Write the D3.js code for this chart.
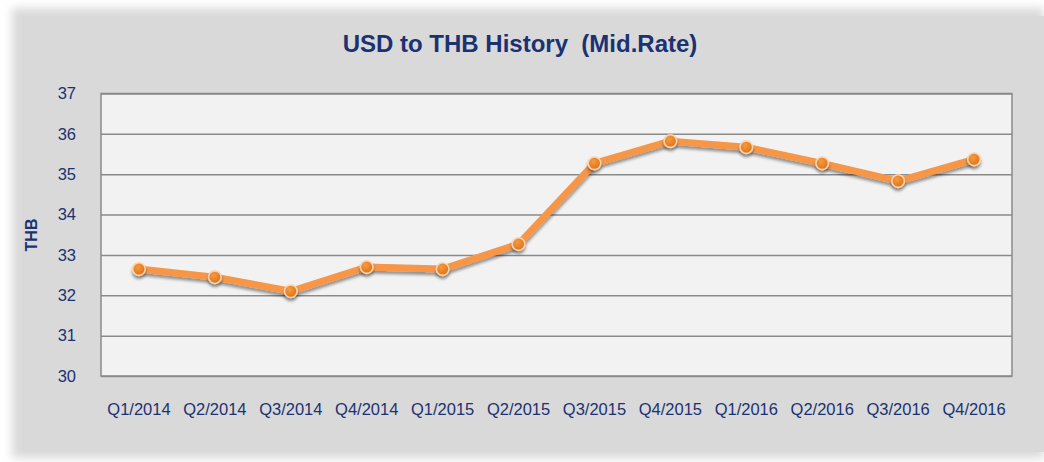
<!DOCTYPE html>
<html><head><meta charset="utf-8">
<script src="https://cdn.jsdelivr.net/npm/d3@7"></script>
<style>html,body{margin:0;padding:0;background:#fff;}svg{display:block;}</style>
</head><body>
<script>
const categories = ["Q1/2014","Q2/2014","Q3/2014","Q4/2014","Q1/2015","Q2/2015","Q3/2015","Q4/2015","Q1/2016","Q2/2016","Q3/2016","Q4/2016"];
const rates = [32.65, 32.45, 32.10, 32.70, 32.65, 33.27, 35.27, 35.82, 35.67, 35.27, 34.83, 35.37];
const yTicks = [30,31,32,33,34,35,36,37];
const title = "USD to THB History  (Mid.Rate)";
const yLabel = "THB";

const W = 1044, H = 462;
const plot = {left: 101, top: 93.5, right: 1012, bottom: 376};
const navy = "#1b3272";

const svg = d3.select("body").append("svg").attr("width", W).attr("height", H);
const defs = svg.append("defs");
const blur = defs.append("filter").attr("id","edge").attr("x","-5%").attr("y","-5%").attr("width","110%").attr("height","110%");
blur.append("feGaussianBlur").attr("stdDeviation", 5);
const sh = defs.append("filter").attr("id","shadow").attr("x","-50%").attr("y","-50%").attr("width","200%").attr("height","200%");
sh.append("feGaussianBlur").attr("in","SourceAlpha").attr("stdDeviation",1.8).attr("result","b");
sh.append("feOffset").attr("in","b").attr("dx",0).attr("dy",3).attr("result","o");
sh.append("feComponentTransfer").attr("in","o").attr("result","o2").append("feFuncA").attr("type","linear").attr("slope",0.4);
const m = sh.append("feMerge"); m.append("feMergeNode").attr("in","o2"); m.append("feMergeNode").attr("in","SourceGraphic");
const grad = defs.append("radialGradient").attr("id","mk").attr("cx","40%").attr("cy","35%").attr("r","70%");
grad.append("stop").attr("offset","0%").attr("stop-color","#f39a45");
grad.append("stop").attr("offset","100%").attr("stop-color","#e0700f");

// panel
svg.append("rect").attr("x",12).attr("y",8).attr("width",1032).attr("height",450).attr("fill","#d9d9d9").attr("filter","url(#edge)");
svg.append("rect").attr("x",22).attr("y",16).attr("width",1022).attr("height",436).attr("fill","#d9d9d9");

const x = d3.scaleBand().domain(categories).range([plot.left, plot.right]);
const y = d3.scaleLinear().domain([30,37]).range([plot.bottom, plot.top]);

// plot area
svg.append("rect").attr("x",plot.left).attr("y",plot.top).attr("width",plot.right-plot.left).attr("height",plot.bottom-plot.top)
  .attr("fill","#f2f2f2").attr("stroke","#8a8a8a").attr("stroke-width",1.5);

// y axis gridlines + labels
const yAxis = d3.axisLeft(y).tickValues(yTicks).tickSize(-(plot.right-plot.left)).tickPadding(25).tickFormat(d3.format("d"));
const gy = svg.append("g").attr("transform",`translate(${plot.left},0)`).call(yAxis);
gy.select(".domain").remove();
gy.selectAll(".tick line").attr("stroke","#8a8a8a").attr("stroke-width",1.5);
gy.selectAll(".tick text").attr("fill",navy).attr("font-family","Arial, 'Liberation Sans', sans-serif").attr("font-size",16.5);

// x axis labels
const xAxis = d3.axisBottom(x).tickSize(0).tickPadding(27);
const gx = svg.append("g").attr("transform",`translate(0,${plot.bottom})`).call(xAxis);
gx.select(".domain").remove();
gx.selectAll(".tick text").attr("fill",navy).attr("font-family","Arial, 'Liberation Sans', sans-serif").attr("font-size",16.5);

// line
const line = d3.line().x((d,i)=>x(categories[i])+x.bandwidth()/2).y(d=>y(d)).curve(d3.curveLinear);
svg.append("path").datum(rates).attr("d",line).attr("fill","none").attr("stroke","#f79646").attr("stroke-width",7)
  .attr("stroke-linejoin","round").attr("stroke-linecap","round").attr("filter","url(#shadow)");

svg.append("g").selectAll("circle").data(rates).join("circle")
  .attr("cx",(d,i)=>x(categories[i])+x.bandwidth()/2).attr("cy",d=>y(d)).attr("r",6.3)
  .attr("fill","url(#mk)").attr("stroke","#fbd3ad").attr("stroke-width",1.6).attr("filter","url(#shadow)");

// title
svg.append("text").attr("x",520).attr("y",52).attr("text-anchor","middle").attr("fill",navy)
  .attr("font-family","Arial, 'Liberation Sans', sans-serif").attr("font-weight","bold").attr("font-size",24)
  .attr("xml:space","preserve").style("white-space","pre").text(title);

// y label
svg.append("text").attr("transform","translate(37,235) rotate(-90)").attr("text-anchor","middle").attr("fill",navy)
  .attr("font-family","Arial, 'Liberation Sans', sans-serif").attr("font-weight","bold").attr("font-size",16).text(yLabel);
</script>
</body></html>
